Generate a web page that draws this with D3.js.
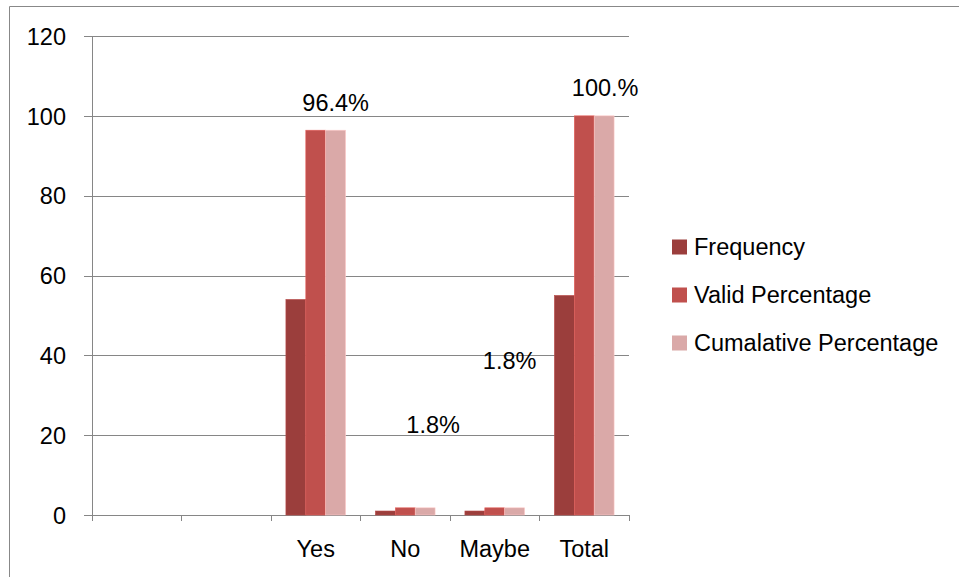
<!DOCTYPE html>
<html>
<head>
<meta charset="utf-8">
<script src="https://cdn.jsdelivr.net/npm/d3@7/dist/d3.min.js"></script>
<style>
  html, body { margin: 0; padding: 0; background: #fff; }
  #chart text { font-family: "Liberation Sans", Arial, sans-serif; fill: #000; }
</style>
</head>
<body>
<div id="chart"></div>
<script>
// chart data
const categories = ['', ' ', 'Yes', 'No', 'Maybe', 'Total'];
const seriesNames = ['Frequency', 'Valid Percentage', 'Cumalative Percentage'];
const frequency = [null, null, 54, 1, 1, 55];
const validPercentage = [null, null, 96.4, 1.8, 1.8, 100];
const cumulativePercentage = [null, null, 96.4, 1.8, 1.8, 100];
const yTicks = [0, 20, 40, 60, 80, 100, 120];
const labelTexts = [null, null, '96.4%', '1.8%', '1.8%', '100.%'];

// manual nudges for the data labels (they were dragged around in the original)
const labelNudge = [null, null, [0, -19], [8, -75], [-5, -139], [1, -20]];

const colors = ['#9b3e3c', '#c0504d', '#daa9a8'];
const fontSize = 23.5;

const width = 959, height = 577;
const margin = { top: 36, right: 330, bottom: 62, left: 92 };
const plotW = width - margin.left - margin.right;
const plotH = height - margin.top - margin.bottom;

const svg = d3.select('#chart')
  .append('svg')
  .attr('width', width)
  .attr('height', height);

// outer frame (only top and left edges show in the picture)
svg.append('path')
  .attr('d', `M9.5,${height} V6.5 H${width}`)
  .attr('fill', 'none')
  .attr('stroke', '#888')
  .attr('stroke-width', 1);

const g = svg.append('g')
  .attr('transform', `translate(${margin.left},${margin.top})`);

const x0 = d3.scaleBand()
  .domain(categories)
  .range([0, plotW])
  .paddingInner(1 / 3)
  .paddingOuter(1 / 6);

const x1 = d3.scaleBand()
  .domain(seriesNames)
  .range([0, x0.bandwidth()]);

const y = d3.scaleLinear()
  .domain([0, 120])
  .range([plotH, 0]);

// horizontal grid lines
g.append('g')
  .attr('class', 'grid')
  .call(d3.axisLeft(y).tickValues(yTicks).tickSize(-plotW).tickFormat(() => ''))
  .call(s => s.select('.domain').remove())
  .selectAll('line')
  .attr('stroke', '#868686')
  .attr('shape-rendering', 'crispEdges');

// Y axis
const yAxis = g.append('g')
  .attr('class', 'axis y-axis')
  .call(d3.axisLeft(y).tickValues(yTicks).tickSize(8).tickPadding(18).tickSizeOuter(0));
yAxis.select('.domain').attr('stroke', '#868686').attr('shape-rendering', 'crispEdges');
yAxis.selectAll('line').attr('stroke', '#868686').attr('shape-rendering', 'crispEdges');
yAxis.selectAll('text')
  .style('font-size', fontSize + 'px')
  .attr('dy', '0.35em');

// X axis: ticks sit on the category boundaries
const step = x0.step();
const boundaries = d3.range(categories.length + 1).map(i => i * step);
const xAxisG = g.append('g')
  .attr('class', 'axis x-axis')
  .attr('transform', `translate(0,${plotH})`);
xAxisG.append('line')
  .attr('x1', 0).attr('x2', plotW)
  .attr('stroke', '#868686')
  .attr('shape-rendering', 'crispEdges');
xAxisG.selectAll('.tick')
  .data(boundaries)
  .enter()
  .append('line')
  .attr('x1', d => d).attr('x2', d => d)
  .attr('y1', 0).attr('y2', 6)
  .attr('stroke', '#868686')
  .attr('shape-rendering', 'crispEdges');
xAxisG.selectAll('.x-label')
  .data(categories)
  .enter()
  .append('text')
  .attr('class', 'x-label')
  .attr('x', d => x0(d) + x0.bandwidth() / 2)
  .attr('y', 42)
  .attr('text-anchor', 'middle')
  .style('font-size', fontSize + 'px')
  .text(d => d.trim());

// bars
const seriesValues = [frequency, validPercentage, cumulativePercentage];
const rows = [];
categories.forEach((c, i) => {
  seriesNames.forEach((s, j) => {
    if (seriesValues[j][i] != null) rows.push({ cat: c, series: s, idx: j, value: seriesValues[j][i] });
  });
});

g.selectAll('.bar')
  .data(rows)
  .enter()
  .append('rect')
  .attr('class', 'bar')
  .attr('x', d => x0(d.cat) + x1(d.series))
  .attr('y', d => y(d.value))
  .attr('width', x1.bandwidth())
  .attr('height', d => plotH - y(d.value))
  .attr('fill', d => colors[d.idx])
  .attr('stroke', d => d3.color(colors[d.idx]).brighter(0.5))
  .attr('stroke-width', 0.6);

// data labels (attached to the cumulative series)
const labelRows = categories
  .map((c, i) => ({ cat: c, i, text: labelTexts[i], value: cumulativePercentage[i] }))
  .filter(d => d.text != null);

g.selectAll('.bar-label')
  .data(labelRows)
  .enter()
  .append('text')
  .attr('class', 'bar-label')
  .attr('x', d => x0(d.cat) + x1(seriesNames[2]) + x1.bandwidth() / 2 + labelNudge[d.i][0])
  .attr('y', d => y(d.value) + labelNudge[d.i][1])
  .attr('text-anchor', 'middle')
  .style('font-size', fontSize + 'px')
  .text(d => d.text);

// legend
const legend = svg.append('g')
  .attr('transform', 'translate(672,247)');
const legendItems = legend.selectAll('.legend-item')
  .data(seriesNames)
  .enter()
  .append('g')
  .attr('class', 'legend-item')
  .attr('transform', (d, i) => `translate(0,${i * 48})`);
legendItems.append('rect')
  .attr('x', 0)
  .attr('y', -7.5)
  .attr('width', 15)
  .attr('height', 15)
  .attr('fill', (d, i) => colors[i]);
legendItems.append('text')
  .attr('x', 22)
  .attr('y', 0)
  .attr('dy', '0.35em')
  .style('font-size', fontSize + 'px')
  .text(d => d);
</script>
</body>
</html>
